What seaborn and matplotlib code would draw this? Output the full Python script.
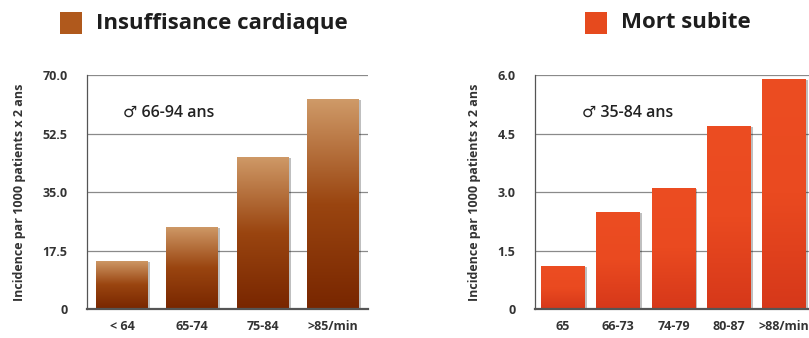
import numpy as np
import pandas as pd
import matplotlib
matplotlib.use("Agg")
import matplotlib.pyplot as plt
import seaborn as sns
from matplotlib.patches import Rectangle
from matplotlib.colors import LinearSegmentedColormap
from matplotlib.transforms import ScaledTranslation

# ---- data ----
hf_categories = ["< 64", "65-74", "75-84", ">85/min"]
hf_values = [14.4, 24.7, 45.6, 62.7]
hf_ticks = [0, 17.5, 35.0, 52.5, 70.0]
hf_ticklabels = ["0", "17.5", "35.0", "52.5", "70.0"]

sd_categories = ["65", "66-73", "74-79", "80-87", ">88/min"]
sd_values = [1.1, 2.5, 3.1, 4.7, 5.9]
sd_ticks = [0, 1.5, 3.0, 4.5, 6.0]
sd_ticklabels = ["0", "1.5", "3.0", "4.5", "6.0"]

hf_title = "Insuffisance cardiaque"
sd_title = "Mort subite"
hf_note = "\u2642 66-94 ans"
sd_note = "\u2642 35-84 ans"
ylabel = "Incidence par 1000 patients x 2 ans"

sns.set_theme(style="white")
plt.rcParams["font.family"] = ["Open Sans", "DejaVu Sans"]

fig = plt.figure(figsize=(8.09, 3.38), dpi=100)
W, H = 809, 338

def px_axes(x0, x1, ytop, ybot):
    return fig.add_axes([x0 / W, 1 - ybot / H, (x1 - x0) / W, (ybot - ytop) / H])

ax1 = px_axes(87, 368, 75, 309.3)
ax2 = px_axes(535, 812, 75, 309.3)

hf_cmap = LinearSegmentedColormap.from_list("hf", ["#782600", "#9a4510", "#cf9a68"])
sd_cmap = LinearSegmentedColormap.from_list("sd", ["#d6381a", "#ea4a20", "#ec4d22"])

def draw(ax, cats, vals, ticks, ticklabels, ymax, width, cmap, flat, note, note_x):
    df = pd.DataFrame({"cat": cats, "val": vals})
    sns.barplot(data=df, x="cat", y="val", ax=ax, color=flat, width=width,
                order=cats, zorder=3, linewidth=0)
    grad = np.linspace(0, 1, 256).reshape(-1, 1)
    for p in list(ax.patches):
        x0, y0 = p.get_x(), p.get_y()
        w, h = p.get_width(), p.get_height()
        sh = Rectangle((x0, y0), w, h, facecolor="#000000", alpha=0.25,
                       zorder=2, linewidth=0)
        ax.add_patch(sh)
        sh.set_transform(ax.transData + ScaledTranslation(2 / 100, -1 / 100, fig.dpi_scale_trans))
        im = ax.imshow(grad, extent=[x0, x0 + w, y0, y0 + h], origin="lower",
                       cmap=cmap, aspect="auto", zorder=4, interpolation="bilinear")
        im.set_clip_path(p)
    ax.set_xlim(-0.5, len(cats) - 0.5)
    ax.set_ylim(0, ymax)
    ax.set_yticks(ticks)
    ax.set_yticklabels(ticklabels)
    ax.grid(axis="y", color="#8a8a8a", linewidth=0.9, zorder=0)
    ax.grid(axis="x", visible=False)
    for s in ["top", "right"]:
        ax.spines[s].set_visible(False)
    ax.spines["left"].set_color("#555555")
    ax.spines["left"].set_linewidth(0.9)
    ax.spines["bottom"].set_color("#555555")
    ax.spines["bottom"].set_linewidth(1.6)
    ax.spines["bottom"].set_zorder(5)
    ax.tick_params(axis="both", length=0, labelsize=9, labelcolor="#333333")
    ax.tick_params(axis="y", pad=14)
    ax.tick_params(axis="x", pad=8)
    for t in ax.get_xticklabels() + ax.get_yticklabels():
        t.set_fontweight("bold")
    ax.set_xlabel("")
    ax.set_ylabel(ylabel, fontsize=9, fontweight="bold", color="#333333", labelpad=12)
    ax.text(note_x, 0.84, note, transform=ax.transAxes, fontsize=11.5,
            fontweight="semibold", color="#222222", va="center", ha="left", zorder=6)

draw(ax1, hf_categories, hf_values, hf_ticks, hf_ticklabels, 70, 0.74, hf_cmap,
     "#a85a20", hf_note, 0.128)
draw(ax2, sd_categories, sd_values, sd_ticks, sd_ticklabels, 6, 0.79, sd_cmap,
     "#e8461e", sd_note, 0.17)

def title(sq_x, txt_x, color, text):
    fig.patches.append(Rectangle((sq_x / W, 1 - 34 / H), 22 / W, 22 / H,
                                 transform=fig.transFigure, figure=fig,
                                 facecolor=color, edgecolor="none"))
    fig.text(txt_x / W, 1 - 23 / H, text, fontsize=16, fontweight="bold",
             color="#1e1e1e", va="center", ha="left")

title(60, 96, "#b0591c", hf_title)
title(585, 621, "#e64a1e", sd_title)

fig.savefig("out.png", dpi=100, facecolor="white")
